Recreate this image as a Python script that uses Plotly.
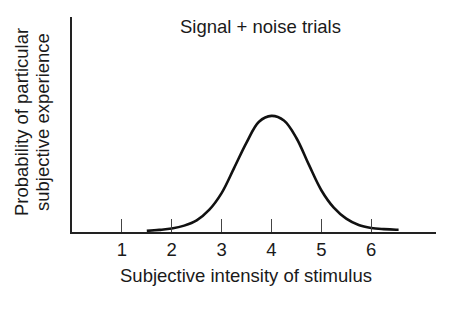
import plotly.graph_objects as go

# Data
intensity = [1.5, 1.75, 2.0, 2.25, 2.5, 2.75, 3.0, 3.25, 3.5, 3.75, 4.0,
             4.25, 4.5, 4.75, 5.0, 5.25, 5.5, 5.75, 6.0, 6.25, 6.5, 6.55]
probability = [0.01, 0.018, 0.03, 0.055, 0.10, 0.19, 0.335, 0.55, 0.77, 0.95, 1.0,
               0.96, 0.81, 0.58, 0.36, 0.21, 0.115, 0.06, 0.035, 0.025, 0.02, 0.02]
tick_values = [1, 2, 3, 4, 5, 6]
tick_labels = ["1", "2", "3", "4", "5", "6"]

title_text = "Signal + noise trials"
x_title = "Subjective intensity of stimulus"
y_title_lines = ["Probability of particular", "subjective experience"]

FONT = "Liberation Sans, Arial, sans-serif"
FS = 18.5
W, H = 464, 325
L, R, T, B = 72, 28, 17, 93
pw = W - L - R
ph = H - T - B

fig = go.Figure()
fig.add_trace(go.Scatter(
    x=intensity, y=probability, mode="lines",
    line=dict(color="#111111", width=2.6, shape="spline", smoothing=1.0),
    hoverinfo="skip", showlegend=False,
))

def px_x(p):
    return (p - L) / pw

def px_y(p):
    return (H - B - p) / ph

annotations = [
    dict(text=title_text, x=px_x(260), y=px_y(27), xref="paper", yref="paper",
         showarrow=False, xanchor="center", yanchor="middle",
         font=dict(family=FONT, size=FS, color="#1a1a1a")),
    dict(text=x_title, x=px_x(246), y=px_y(275), xref="paper", yref="paper",
         showarrow=False, xanchor="center", yanchor="middle",
         font=dict(family=FONT, size=FS, color="#1a1a1a")),
    dict(text=y_title_lines[0], x=px_x(21), y=px_y(122), xref="paper", yref="paper",
         showarrow=False, xanchor="center", yanchor="middle", textangle=-90,
         font=dict(family=FONT, size=FS, color="#1a1a1a")),
    dict(text=y_title_lines[1], x=px_x(42), y=px_y(122), xref="paper", yref="paper",
         showarrow=False, xanchor="center", yanchor="middle", textangle=-90,
         font=dict(family=FONT, size=FS, color="#1a1a1a")),
]

fig.update_layout(
    width=W, height=H,
    margin=dict(l=L, r=R, t=T, b=B, pad=0),
    paper_bgcolor="white", plot_bgcolor="white",
    annotations=annotations,
    xaxis=dict(
        range=[0, 7.3], showgrid=False, zeroline=False,
        showline=True, linecolor="#222222", linewidth=1.6,
        tickmode="array", tickvals=tick_values, ticktext=tick_labels,
        ticks="inside", ticklen=13, tickwidth=1.2, tickcolor="#444444",
        tickfont=dict(family=FONT, size=FS, color="#1a1a1a"),
        fixedrange=True,
    ),
    yaxis=dict(
        range=[0, 1.852], showgrid=False, zeroline=False,
        showline=True, linecolor="#222222", linewidth=1.6,
        showticklabels=False, ticks="", fixedrange=True,
    ),
)

fig.write_html("out.html", config={"displayModeBar": False})
